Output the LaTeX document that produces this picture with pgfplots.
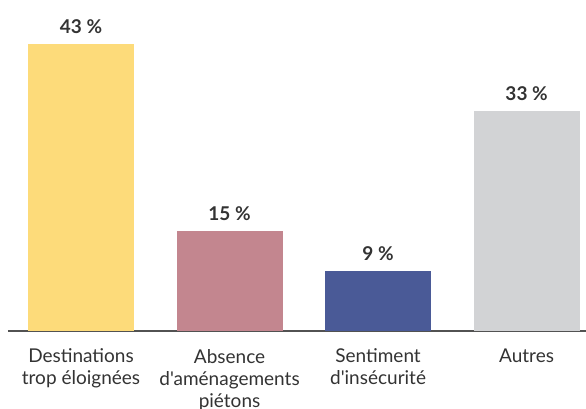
\documentclass[border=0pt]{standalone}
\usepackage{fontspec}
\setmainfont{Lato}[Ligatures=TeXOff]
\usepackage{pgfplots}
\pgfplotsset{compat=1.18}
\definecolor{cyel}{HTML}{FDDB7A}
\definecolor{cpink}{HTML}{C3868F}
\definecolor{cblue}{HTML}{4A5A97}
\definecolor{cgray}{HTML}{D2D3D5}
\definecolor{ctext}{HTML}{333333}
\begin{document}
\begin{tikzpicture}
\useasboundingbox (0pt,0pt) rectangle (586pt,409pt);
\clip (0pt,0pt) rectangle (586pt,409pt);
\begin{axis}[
  at={(8pt,78pt)}, anchor=south west,
  scale only axis, width=578pt, height=331pt,
  xmin=-0.4916, xmax=3.40, ymin=0, ymax=49.6,
  axis x line=bottom, axis y line=none,
  x axis line style={-, draw=ctext!85, line width=1.4pt},
  xtick={0,1,2,3}, major tick length=0pt,
  xticklabels={{Destinations\\trop éloignées},{Absence\\d'aménagements\\piétons},{Sentiment\\d'insécurité},{Autres}},
  xticklabel style={align=center, font=\fontsize{19}{22}\selectfont, text=ctext, anchor=north, yshift=-14.5pt},
  ybar, bar width=106pt, bar shift=0pt,
  nodes near coords={\pgfplotspointmeta~\%},
  nodes near coords style={font=\fontsize{19}{22}\selectfont\bfseries, text=ctext, yshift=7pt},
  point meta=explicit symbolic,
  clip=false,
]
\addplot[draw=none, fill=cyel] coordinates {(0,43) [43]};
\addplot[draw=none, fill=cpink] coordinates {(1,15) [15]};
\addplot[draw=none, fill=cblue] coordinates {(2,9) [9]};
\addplot[draw=none, fill=cgray] coordinates {(3,33) [33]};
\end{axis}
\end{tikzpicture}
\end{document}
